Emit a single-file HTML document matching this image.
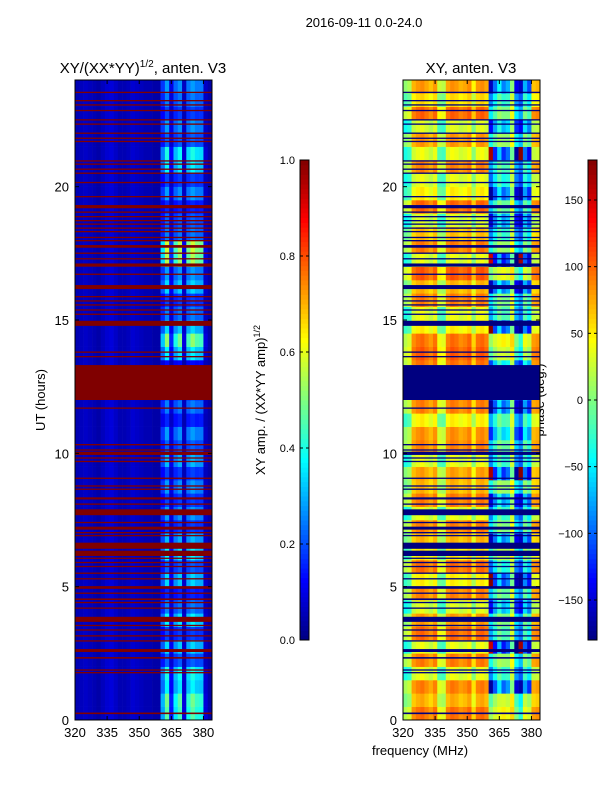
<!DOCTYPE html>
<html><head><meta charset="utf-8"><style>
body{margin:0;background:#fff;}
svg text{font-family:"Liberation Sans",sans-serif;fill:#000;}
</style></head><body>
<svg id="fig" width="600" height="800" xmlns="http://www.w3.org/2000/svg">
<text x="364" y="27" font-size="13" text-anchor="middle">2016-09-11 0.0-24.0</text>
<text x="143" y="73" font-size="15" text-anchor="middle">XY/(XX*YY)<tspan font-size="10" dy="-6">1/2</tspan><tspan dy="6">, anten. V3</tspan></text>
<text x="471" y="73" font-size="15" text-anchor="middle">XY, anten. V3</text>
<text transform="translate(45,400) rotate(-90)" font-size="13" text-anchor="middle">UT (hours)</text>
<text x="420" y="755" font-size="13" text-anchor="middle">frequency (MHz)</text>
<text transform="translate(265,400) rotate(-90)" font-size="13" text-anchor="middle">XY amp. / (XX*YY amp)<tspan font-size="9" dy="-5">1/2</tspan></text>
<text transform="translate(544,400) rotate(-90)" font-size="13" text-anchor="middle">phase (deg.)</text>
<g id="left"></g>
<g id="right"></g>
<g id="cb1"></g>
<g id="cb2"></g>
</svg>
<script>
// frequency bins (MHz, 2 MHz wide, left edges)
const freqBins=[320,322,324,326,328,330,332,334,336,338,340,342,344,346,348,350,352,354,356,358,360,362,364,366,368,370,372,374,376,378,380,382];
// amplitude base per freq bin
const ampBase=[0.05,0.06,0.07,0.06,0.05,0.04,0.06,0.08,0.09,0.07,0.05,0.05,0.06,0.08,0.07,0.06,0.05,0.05,0.04,0.04,0.07,0.1,0.05,0.09,0.1,0.04,0.09,0.1,0.09,0.1,0.05,0.04];
// amplitude activity per freq bin
const ampAct=[0,0,0,0,0,0,0,0,0,0,0,0,0,0,0,0,0,0,0,0,0.18,0.3,0.08,0.22,0.28,0.04,0.25,0.3,0.26,0.24,0.03,0];
// activity per half hour (0h..24h)
const rowAct=[1.2,1.3,0.9,1.0,0.4,0.8,0.3,0.9,0.5,0.2,0.8,0.4,0.9,0.7,0.3,0.6,0.3,0.6,0.3,0.7,0.4,0.6,0.2,0.5,0.2,0.1,0.1,0.9,1.4,0.8,0.5,0.3,0.8,0.6,1.5,1.6,0.5,0.4,0.2,0.6,0.3,0.9,1.0,0.4,0.6,0.3,0.5,0.6];
// phase base per freq bin (deg)
const phBase=[20,30,85,95,100,90,80,95,40,35,90,100,95,85,90,100,60,95,100,90,-110,-60,-20,-50,-40,20,-100,-120,-40,-70,80,85];
// phase variation per freq bin
const phAct=[10,10,10,10,10,10,10,10,10,10,10,10,10,10,10,10,10,10,10,10,120,90,60,100,80,40,100,90,80,100,10,10];
// phase row modulation per half hour
const rowPh=[1,0.8,-0.5,0.2,0.6,-0.8,0.3,0.5,-0.2,0.4,-0.6,0.1,0.7,-0.4,0.5,0.2,-0.3,0.6,-0.7,0.2,0.4,-0.1,0.3,-0.5,0,0,0,0.8,1,-0.6,0.3,0.5,-0.4,0.9,-0.8,0.6,0.2,-0.3,0.4,-0.5,0.1,0.3,-0.7,0.6,-0.2,0.5,0.2,-0.4];
// phase offset per half hour (deg)
const rowOff=[-10,-30,0,-60,-10,-50,0,-20,-60,-10,-40,0,-50,-20,-10,-60,0,-30,-10,-60,-10,-10,-50,0,0,0,0,0,-10,-40,-60,-10,-20,0,-50,-10,-30,-60,0,-40,-60,-10,-50,-20,-60,0,-40,-10];
// flagged intervals (UT hours)
const flagStart=[0.22,1.75,1.85,2.3,2.55,2.94,3.13,3.35,3.52,3.68,4.17,4.38,4.5,4.73,4.92,5.27,5.48,5.73,5.88,6.04,6.15,6.42,6.89,7.0,7.14,7.38,7.68,8.07,8.27,8.63,8.75,9.04,9.67,9.8,9.94,10.1,10.3,11.67,12.0,13.6,13.77,14.78,15.19,15.35,15.54,15.69,15.85,16.16,16.69,17.0,17.27,17.48,17.71,17.95,18.07,18.29,18.42,18.57,18.7,18.85,19.02,19.19,19.6,20.13,20.48,20.63,20.82,20.94,21.67,21.79,21.98,22.32,22.48,22.83,23.04,23.2,23.51];
const flagEnd=[0.28,1.8,1.9,2.36,2.66,2.99,3.18,3.4,3.57,3.87,4.22,4.43,4.56,4.78,5.02,5.32,5.53,5.78,5.93,6.09,6.35,6.65,6.94,7.05,7.25,7.43,7.9,8.12,8.35,8.68,8.8,9.09,9.72,9.85,10.06,10.15,10.35,11.72,13.31,13.65,13.82,14.97,15.24,15.4,15.59,15.74,15.9,16.31,16.74,17.12,17.32,17.53,17.81,18.0,18.12,18.34,18.47,18.62,18.75,18.9,19.07,19.31,19.65,20.18,20.53,20.68,20.87,20.99,21.72,21.84,22.03,22.37,22.53,22.88,23.09,23.25,23.56];

const NS='http://www.w3.org/2000/svg';
function jet(v){v=Math.max(0,Math.min(1,v));
 const r=Math.max(0,Math.min(1,1.5-Math.abs(4*v-3))),g=Math.max(0,Math.min(1,1.5-Math.abs(4*v-2))),b=Math.max(0,Math.min(1,1.5-Math.abs(4*v-1)));
 return `rgb(${Math.round(r*255)},${Math.round(g*255)},${Math.round(b*255)})`;}
function mk(tag,attrs,parent){const e=document.createElementNS(NS,tag);for(const k in attrs)e.setAttribute(k,attrs[k]);parent.appendChild(e);return e;}
const T=80,B=720;
const yS=h=>B-h*(B-T)/24;
function panel(gid,x0,cellVal,flagColor){
 const g=document.getElementById(gid);
 const xS=f=>x0+(f-320)*137/64;
 for(let r=0;r<rowAct.length;r++){
  for(let c=0;c<freqBins.length;c++){
   const el=mk('rect',{x:xS(freqBins[c]),y:yS((r+1)*0.5),width:xS(freqBins[c]+2)-xS(freqBins[c])+0.3,height:yS(r*0.5)-yS((r+1)*0.5)+0.3,fill:jet(cellVal(r,c))},g);
   
   
  }
 }
 for(let i=0;i<flagStart.length;i++){
  const el=mk('rect',{x:x0,y:yS(flagEnd[i]),width:137,height:Math.max(1,yS(flagStart[i])-yS(flagEnd[i])),fill:flagColor},g);
  
  
 }
 const fr=mk('rect',{x:x0,y:T,width:137,height:B-T,fill:'none',stroke:'#000','stroke-width':1},g);
 
 
 [320,335,350,365,380].forEach(f=>{
  mk('line',{x1:xS(f),x2:xS(f),y1:B,y2:B-4,stroke:'#000'},g);
  mk('line',{x1:xS(f),x2:xS(f),y1:T,y2:T+4,stroke:'#000'},g);
  const t=mk('text',{x:xS(f),y:B+17,'font-size':13,'text-anchor':'middle'},g);t.textContent=f;
  
  
 });
 [0,5,10,15,20].forEach(h=>{
  mk('line',{x1:x0,x2:x0+4,y1:yS(h),y2:yS(h),stroke:'#000'},g);
  mk('line',{x1:x0+137,x2:x0+133,y1:yS(h),y2:yS(h),stroke:'#000'},g);
  const t=mk('text',{x:x0-6,y:yS(h)+5,'font-size':13,'text-anchor':'end'},g);t.textContent=h;
  
  
 });
}
panel('left',75,(r,c)=>ampBase[c]+ampAct[c]*rowAct[r],'#800000');
panel('right',403,(r,c)=>{let p=phBase[c]+phAct[c]*rowPh[r]+(c<20||c>29?rowOff[r]:0);p=((p+180)%360+360)%360-180;return (p+180)/360;},'#000080');

function cbar(gid,x0,vmin,vmax,ticks,fmt){
 const g=document.getElementById(gid);
 const n=100,y0=160,y1=640;
 for(let i=0;i<n;i++){
  mk('rect',{x:x0,y:y1-(i+1)*(y1-y0)/n,width:9,height:(y1-y0)/n+0.5,fill:jet((i+0.5)/n)},g);
 }
 mk('rect',{x:x0,y:y0,width:9,height:y1-y0,fill:'none',stroke:'#000'},g);
 ticks.forEach(v=>{
  const y=y1-(v-vmin)/(vmax-vmin)*(y1-y0);
  mk('line',{x1:x0,x2:x0+3,y1:y,y2:y,stroke:'#000'},g);
  mk('line',{x1:x0+9,x2:x0+6,y1:y,y2:y,stroke:'#000'},g);
  const t=mk('text',{x:x0-5,y:y+4,'font-size':11,'text-anchor':'end'},g);t.textContent=fmt(v);
  
  
 });
}
cbar('cb1',300,0,1,[0,0.2,0.4,0.6,0.8,1.0],v=>v.toFixed(1));
cbar('cb2',588,-180,180,[-150,-100,-50,0,50,100,150],v=>v<0?'\u2212'+Math.abs(v):String(v));
</script>
</body></html>
